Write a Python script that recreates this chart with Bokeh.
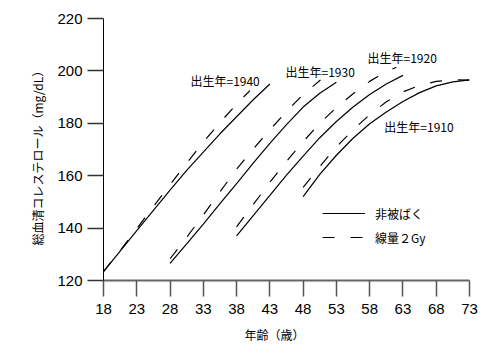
from bokeh.plotting import figure
from bokeh.models import FixedTicker, Range1d, Legend, LegendItem, ColumnDataSource, Title
from bokeh.core.properties import value
from bokeh.embed import file_html
from bokeh.resources import INLINE

# ---- data ----
age_1940_ctrl = [18, 20.5, 23, 25.5, 28, 30.5, 33, 35.5, 38, 40.5, 43]
chol_1940_ctrl = [123.4, 131.2, 139, 146.8, 154.5, 162, 169, 176, 182.5, 189, 195]
age_1940_dose = [18, 20.5, 23, 25.5, 28, 30.5, 33, 35.5, 38, 40]
chol_1940_dose = [123.4, 131.4, 139.8, 148.2, 156.5, 164.8, 172.8, 180.3, 187.3, 192.5]

age_1930_ctrl = [28, 30.5, 33, 35.5, 38, 40.5, 43, 45.5, 48, 50.5, 53]
chol_1930_ctrl = [126.5, 134, 141.5, 149.3, 157, 164.8, 172.3, 179.5, 186.2, 191.5, 195.7]
age_1930_dose = [28, 30.5, 33, 35.5, 38, 40.5, 43, 45.5, 48, 50.6]
chol_1930_dose = [128.3, 136.5, 145, 153.8, 162.5, 170.2, 177.5, 184.5, 191, 196.5]

age_1920_ctrl = [38, 40.5, 43, 45.5, 48, 50.5, 53, 55.5, 58, 60.5, 63]
chol_1920_ctrl = [137, 144.8, 152.5, 160.2, 167.5, 174.5, 180.7, 186.2, 191, 195, 198.3]
age_1920_dose = [38, 40.5, 43, 45.5, 48, 50.5, 53, 55.5, 58, 60, 62]
chol_1920_dose = [140.5, 149, 157.5, 165.5, 173, 180, 186, 191.3, 196, 199, 201.4]

age_1910_ctrl = [48, 50.5, 53, 55.5, 58, 60.5, 63, 65.5, 68, 70.5, 73]
chol_1910_ctrl = [152, 160.5, 167.8, 174.3, 179.8, 184.3, 188.3, 191.7, 194.3, 195.8, 196.6]
age_1910_dose = [48, 50.5, 53, 55.5, 58, 60.5, 63, 65.5, 68, 70.5, 73]
chol_1910_dose = [155.5, 163.5, 171, 177.5, 183.3, 188.2, 192, 194.5, 196, 196.6, 196.5]

cohort_labels = ["出生年=1940", "出生年=1930", "出生年=1920", "出生年=1910"]
x_ticks = [18, 23, 28, 33, 38, 43, 48, 53, 58, 63, 68, 73]
y_ticks = [120, 140, 160, 180, 200, 220]
legend_labels = ["非被ばく", "線量２Gy"]
x_title = "年齢（歳）"
y_title = "総血清コレステロール（mg/dL）"

# ---- layout / style ----
label_x = [31.07, 45.35, 57.67, 60.2]
label_y = [196.3, 199.9, 205.2, 178.8]

JP = "Noto Sans CJK JP"

p = figure(width=496, height=360, output_backend="svg", toolbar_location=None,
           x_range=Range1d(18, 73), y_range=Range1d(120, 220),
           min_border_left=103, min_border_right=27, min_border_top=18, min_border_bottom=80)
p.outline_line_color = None
p.xgrid.grid_line_color = None
p.ygrid.grid_line_color = None
p.background_fill_color = "white"

dash = "12 16"
series = [
    (age_1940_ctrl, chol_1940_ctrl, age_1940_dose, chol_1940_dose),
    (age_1930_ctrl, chol_1930_ctrl, age_1930_dose, chol_1930_dose),
    (age_1920_ctrl, chol_1920_ctrl, age_1920_dose, chol_1920_dose),
    (age_1910_ctrl, chol_1910_ctrl, age_1910_dose, chol_1910_dose),
]
ctrl_renderers = []
dose_renderers = []
for xc, yc, xd, yd in series:
    ctrl_renderers.append(p.line(xc, yc, line_color="black", line_width=1.2))
    dose_renderers.append(p.line(xd, yd, line_color="black", line_width=1.2, line_dash=dash))

src = ColumnDataSource(dict(x=label_x, y=label_y, t=cohort_labels))
p.text(x="x", y="y", text="t", source=src, text_font=value(JP), text_font_size="12px",
       text_align="left", text_baseline="middle", text_color="black")

legend = Legend(items=[LegendItem(label=legend_labels[0], renderers=[ctrl_renderers[0]]),
                       LegendItem(label=legend_labels[1], renderers=[dose_renderers[0]])],
                location=(219, 33), orientation="vertical")
legend.background_fill_alpha = 0
legend.border_line_color = None
legend.padding = 0
legend.margin = 0
legend.spacing = 4
legend.glyph_width = 43
legend.glyph_height = 20
legend.label_height = 20
legend.label_standoff = 10
legend.label_text_font = JP
legend.label_text_font_size = "12px"
legend.label_text_color = "black"
p.add_layout(legend, "center")

# axes
for ax in (p.xaxis[0], p.yaxis[0]):
    ax.major_tick_out = 16
    ax.major_tick_in = 0
    ax.minor_tick_line_color = None
    ax.major_label_text_font = "Liberation Sans"
    ax.major_label_text_font_size = "15px"
    ax.major_label_text_color = "black"

p.xaxis.ticker = FixedTicker(ticks=x_ticks)
p.yaxis.ticker = FixedTicker(ticks=y_ticks)
p.xaxis.axis_line_color = "#666666"
p.xaxis.axis_line_width = 2
p.xaxis.major_tick_line_color = "#555555"
p.xaxis.major_tick_line_width = 1.5
p.xaxis.major_label_standoff = 7
p.yaxis.axis_line_color = "black"
p.yaxis.axis_line_width = 1
p.yaxis.major_tick_line_color = "#333333"
p.yaxis.major_tick_line_width = 1.5
p.yaxis.major_label_standoff = 5

# axis titles as side-panel titles (allow offset like the reference)
xt = Title(text=x_title, align="left", offset=141, standoff=14,
           text_font=JP, text_font_size="12px", text_font_style="normal", text_color="black")
p.add_layout(xt, "below")
yt = Title(text=y_title, align="left", offset=35, standoff=18,
           text_font=JP, text_font_size="12px", text_font_style="normal", text_color="black")
p.add_layout(yt, "left")

open("out.html", "w").write(file_html(p, INLINE))
